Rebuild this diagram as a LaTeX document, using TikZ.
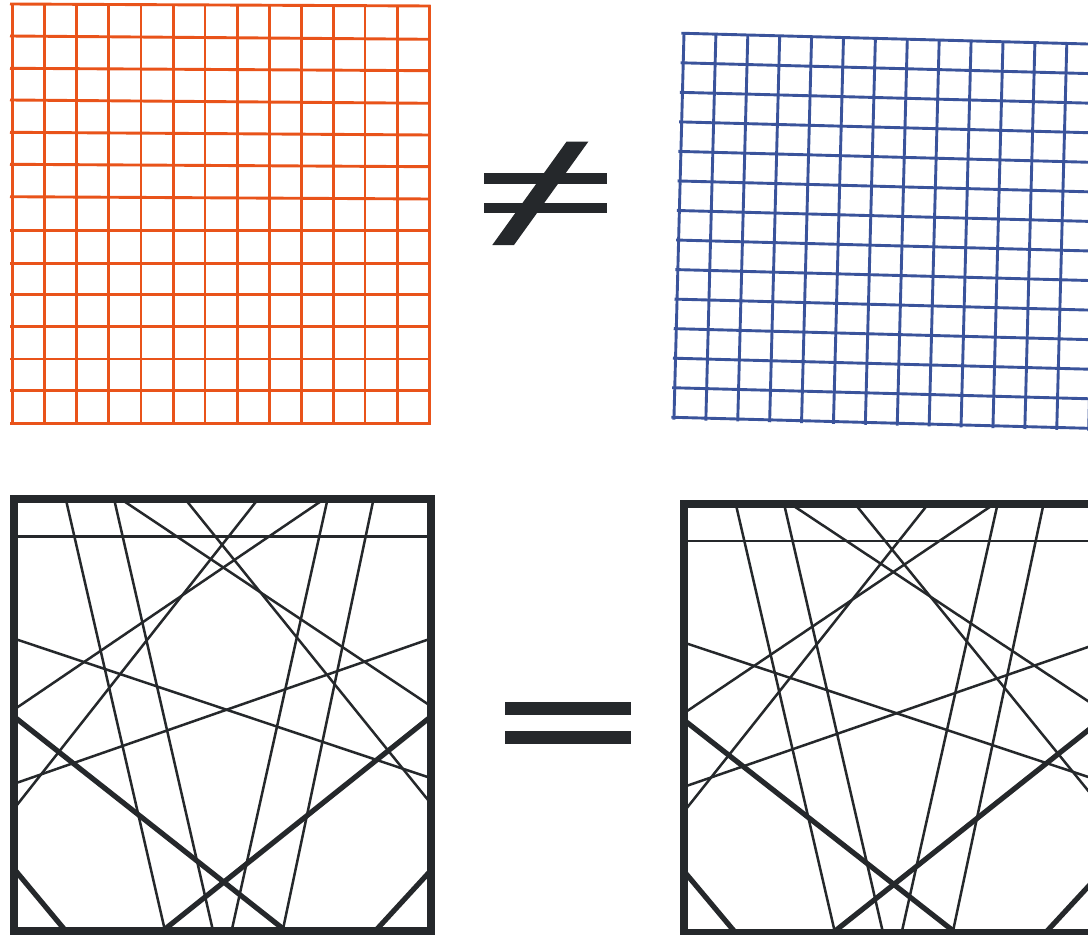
\documentclass[tikz,border=0pt]{standalone}
\definecolor{gridorange}{RGB}{233,83,26}
\definecolor{gridblue}{RGB}{58,83,155}
\definecolor{ink}{RGB}{37,40,43}
\newcommand\crosspattern{%
  % thin lines
  \draw[thinline,ext] (18.3,536.3) -- (426.7,536.3);
  \draw[thinline,ext] (66.7,503) -- (164.3,927.7);
  \draw[thinline,ext] (115,503) -- (212.3,927.7);
  \draw[thinline,ext] (126.7,503) -- (426.7,703.3);
  \draw[thinline,ext] (188.3,503) -- (426.7,798.3);
  \draw[thinline,ext] (255,503) -- (18.3,803.3);
  \draw[thinline,ext] (318.3,503) -- (18.3,706.7);
  \draw[thinline,ext] (326.7,503) -- (232.3,927.7);
  \draw[thinline,ext] (372.7,503) -- (283.3,927.7);
  \draw[thinline,ext] (18.3,640) -- (426.7,776.7);
  \draw[thinline,ext] (18.3,782.3) -- (426.7,640);
  % thick lines
  \draw[thickline,ext] (18.3,720) -- (281.7,927.7);
  \draw[thickline,ext] (426.7,720) -- (166.7,927.7);
  \draw[thickline,ext] (18.3,874) -- (63,927.7);
  \draw[thickline,ext] (426.7,875) -- (378.3,927.7);
  % frame
  \draw[frameline] (14.2,499) rectangle (430.8,931.5);
}
\begin{document}
\begin{tikzpicture}[x=1pt,y=-1pt,
  orangeline/.style={gridorange,line width=2.9pt},
  blueline/.style={gridblue,line width=2.9pt},
  thinline/.style={ink,line width=2.5pt},
  thickline/.style={ink,line width=5.2pt},
  frameline/.style={ink,line width=8.3pt},
  ext/.style={shorten <=-4pt,shorten >=-4pt}]
\useasboundingbox (0,0) rectangle (1088,935);
\clip (0,0) rectangle (1088,935);
\fill[white] (0,0) rectangle (1088,935);

% orange grid
\foreach \x in {12.7,44.3,76.7,108.7,141,173.3,205,237.3,269.3,301.7,333.3,365,397.3,429.3}
  \draw[orangeline] (\x,{3.5+2*(\x-10)/420}) -- (\x,424.5);
\foreach \yl/\yr in {4/6,36/39.3,68.3/70.7,100/103.3,132.3/135,164.3/166.7,196.7/199,230.7/230.7,263.3/263.3,294.7/294.7,326.7/326.7,359/359,390.7/390.7,423.3/423.3}
  \draw[orangeline] (10,\yl) -- (430.6,\yr);

% blue grid
\foreach \i in {0,...,13}
  \draw[blueline] ({684+31.9*\i},{33.3+0.845*\i}) -- ({684+31.9*\i-0.77*13.08},{33.3+0.845*\i+29.54*13.08});
\foreach \j in {0,...,13}
  \draw[blueline] ({684-31.9*0.08-0.77*\j},{33.3-0.845*0.08+29.54*\j}) -- ({684+31.9*13.5-0.77*\j},{33.3+0.845*13.5+29.54*\j});

% not-equal sign
\fill[ink] (484,173.3) rectangle (606.7,184);
\fill[ink] (484,202.7) rectangle (606.7,213.3);
\fill[ink] (566.5,141.7) -- (588.3,141.7) -- (514,245) -- (492.3,245) -- cycle;

% equal sign
\fill[ink] (505,701.7) rectangle (630.7,715);
\fill[ink] (505,730.7) rectangle (630.7,744.3);

% left pattern
\crosspattern
% right pattern
\begin{scope}[shift={(670,8.5)},yscale=0.993]
  \crosspattern
\end{scope}
\end{tikzpicture}
\end{document}
